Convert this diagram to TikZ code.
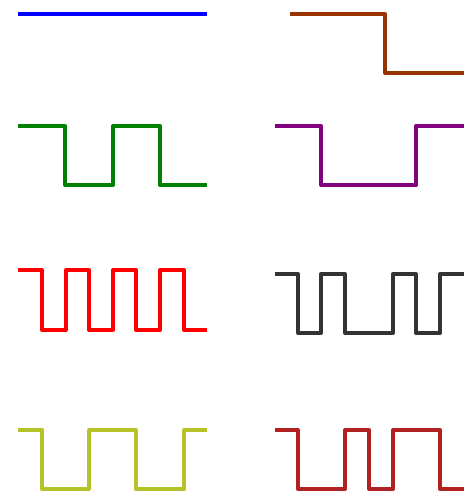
\documentclass[tikz,border=0pt]{standalone}
\usepackage{xcolor}
\usepackage{tikz}
\definecolor{sigbrown}{HTML}{993300}
\definecolor{sigpurple}{HTML}{800080}
\definecolor{sigolive}{HTML}{B5C22A}
\definecolor{sigdark}{HTML}{333333}
\definecolor{sigbrick}{HTML}{B22222}
\tikzset{
  wave/.style = {line width=4pt, line join=round},
}
\begin{document}
\begin{tikzpicture}[x=1pt, y=-1pt]
\useasboundingbox (0,0) rectangle (464,491);

% left column
\draw[wave, blue]     (18,14) -- (207,14);
\draw[wave, green!50!black] (18,126) -| (65,185) -| (113,126) -| (160,185) -- (207,185);
\draw[wave, red]      (18,270) -| (42,330) -| (66,270) -| (89,330) -| (113,270)
                      -| (136,330) -| (160,270) -| (184,330) -- (207,330);
\draw[wave, sigolive] (18,430) -| (42,489) -| (89,430) -| (136,489) -| (184,430) -- (207,430);

% right column
\draw[wave, sigbrown] (290,14) -| (385,73) -- (464,73);
\draw[wave, sigpurple] (275,126) -| (321,185) -| (416,126) -- (464,126);
\draw[wave, sigdark]  (275,274) -| (298,333) -| (321,274) -| (345,333) -| (393,274)
                      -| (416,333) -| (440,274) -- (464,274);
\draw[wave, sigbrick] (275,430) -| (298,489) -| (345,430) -| (369,489) -| (393,430)
                      -| (440,489) -- (464,489);
\end{tikzpicture}
\end{document}
